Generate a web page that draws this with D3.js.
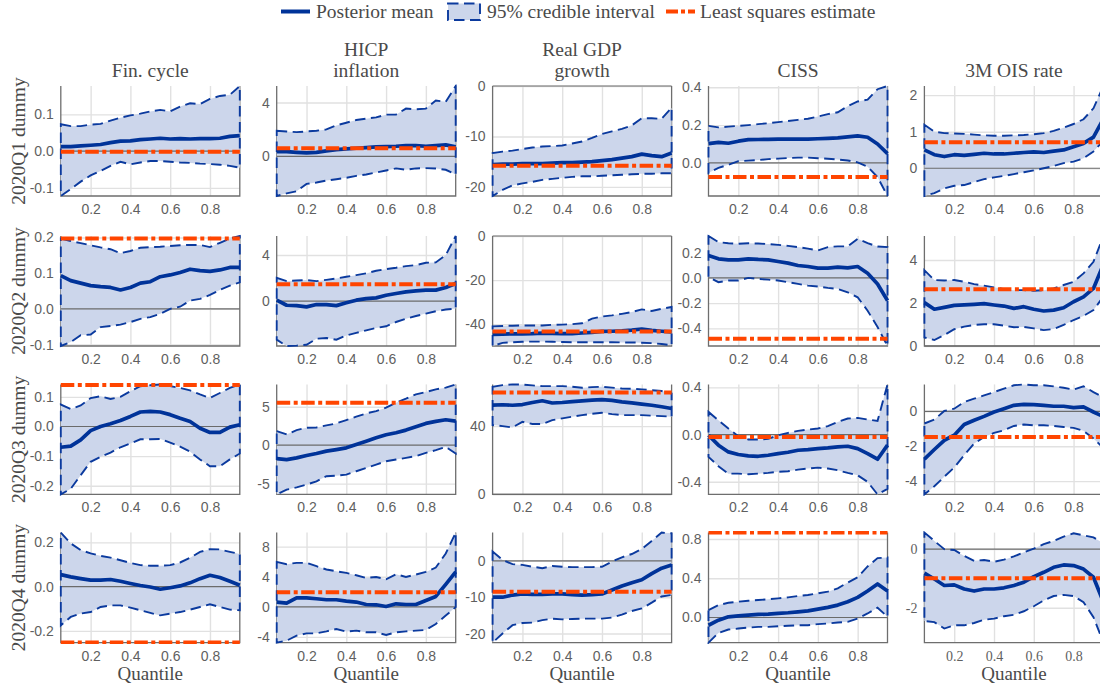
<!DOCTYPE html>
<html>
<head>
<meta charset="utf-8">
<script src="https://cdn.jsdelivr.net/npm/d3@7"></script>
<style>
  body { margin: 0; background: #fff; }
  svg { display: block; }
  .serif { font-family: "Liberation Serif", "DejaVu Serif", "Times New Roman", serif; }
  .sans { font-family: "Liberation Sans", Arial, Helvetica, sans-serif; }
</style>
</head>
<body>
<svg id="chart" width="1100" height="689"></svg>
<script>
// Quantile grid shared by every panel
const quantiles = [0.05, 0.10, 0.15, 0.20, 0.25, 0.30, 0.35, 0.40, 0.45, 0.50,
                   0.55, 0.60, 0.65, 0.70, 0.75, 0.80, 0.85, 0.90, 0.95];
const xTicks = [0.2, 0.4, 0.6, 0.8];

// Column (response variable) titles and row (dummy) labels
const variableTitles = [["Fin. cycle"], ["HICP", "inflation"], ["Real GDP", "growth"], ["CISS"], ["3M OIS rate"]];
const dummyLabels = ["2020Q1 dummy", "2020Q2 dummy", "2020Q3 dummy", "2020Q4 dummy"];
const legendLabels = ["Posterior mean", "95% credible interval", "Least squares estimate"];

// ---- 2020Q1 dummy ----
const finQ1Mean = [0.012, 0.012, 0.014, 0.016, 0.018, 0.023, 0.027, 0.028, 0.031, 0.033, 0.035, 0.033, 0.034, 0.033, 0.034, 0.034, 0.035, 0.040, 0.042];
const finQ1Hi   = [0.073, 0.068, 0.068, 0.072, 0.074, 0.083, 0.091, 0.097, 0.102, 0.108, 0.112, 0.108, 0.121, 0.130, 0.128, 0.142, 0.150, 0.153, 0.177];
const finQ1Lo   = [-0.122, -0.103, -0.083, -0.066, -0.054, -0.040, -0.029, -0.036, -0.031, -0.027, -0.027, -0.029, -0.031, -0.032, -0.034, -0.035, -0.037, -0.040, -0.045];
const hicpQ1Mean = [0.35, 0.35, 0.30, 0.25, 0.30, 0.40, 0.50, 0.55, 0.60, 0.65, 0.70, 0.72, 0.75, 0.80, 0.80, 0.75, 0.80, 0.85, 0.70];
const hicpQ1Hi   = [1.90, 1.85, 1.80, 1.85, 1.90, 2.00, 2.30, 2.50, 2.70, 2.80, 2.90, 3.10, 3.10, 3.55, 3.50, 3.55, 4.15, 4.05, 5.23];
const hicpQ1Lo   = [-2.95, -2.75, -2.60, -2.05, -1.95, -1.80, -1.70, -1.60, -1.45, -1.35, -1.20, -1.05, -0.90, -1.00, -0.90, -0.88, -0.90, -1.00, -1.35];
const gdpQ1Mean = [-15.6, -15.5, -15.5, -15.4, -15.4, -15.4, -15.3, -15.2, -15.2, -15.1, -15.0, -14.8, -14.6, -14.3, -14.0, -13.5, -13.8, -14.0, -13.3];
const gdpQ1Hi   = [-13.3, -13.0, -12.8, -12.5, -12.2, -12.0, -11.9, -11.8, -11.4, -11.0, -10.3, -9.5, -9.0, -8.5, -7.8, -6.4, -6.4, -6.5, -4.3];
const gdpQ1Lo   = [-21.8, -20.6, -19.7, -19.3, -19.0, -18.6, -18.4, -18.2, -18.0, -17.9, -17.9, -17.8, -17.7, -17.6, -17.5, -17.4, -17.4, -17.3, -17.3];
const cissQ1Mean = [0.102, 0.109, 0.104, 0.115, 0.123, 0.124, 0.125, 0.126, 0.126, 0.126, 0.126, 0.128, 0.130, 0.133, 0.138, 0.143, 0.136, 0.100, 0.049];
const cissQ1Hi   = [0.196, 0.188, 0.192, 0.196, 0.200, 0.205, 0.210, 0.216, 0.222, 0.228, 0.234, 0.245, 0.258, 0.268, 0.300, 0.325, 0.335, 0.390, 0.407];
const cissQ1Lo   = [-0.053, -0.026, -0.010, 0.009, 0.012, 0.015, 0.020, 0.023, 0.026, 0.028, 0.028, 0.025, 0.022, 0.018, 0.013, 0.003, -0.020, -0.075, -0.175];
const oisQ1Mean = [0.50, 0.37, 0.32, 0.37, 0.35, 0.38, 0.41, 0.39, 0.39, 0.41, 0.43, 0.45, 0.43, 0.47, 0.50, 0.59, 0.68, 0.85, 1.35];
const oisQ1Hi   = [1.19, 1.00, 0.96, 0.95, 0.94, 0.92, 0.90, 0.89, 0.89, 0.90, 0.91, 0.93, 0.96, 1.02, 1.11, 1.21, 1.34, 1.64, 2.25];
const oisQ1Lo   = [-0.76, -0.68, -0.55, -0.48, -0.46, -0.38, -0.30, -0.25, -0.21, -0.16, -0.11, -0.06, 0.00, 0.06, 0.14, 0.18, 0.27, 0.46, 0.75];
const lsQ1 = [-0.002, 0.60, -15.8, -0.075, 0.71];

// ---- 2020Q2 dummy ----
const finQ2Mean = [0.093, 0.079, 0.072, 0.065, 0.062, 0.060, 0.053, 0.060, 0.072, 0.076, 0.090, 0.095, 0.102, 0.111, 0.107, 0.105, 0.109, 0.116, 0.116];
const finQ2Hi   = [0.197, 0.190, 0.184, 0.178, 0.172, 0.167, 0.156, 0.162, 0.171, 0.173, 0.174, 0.176, 0.178, 0.179, 0.179, 0.173, 0.185, 0.197, 0.204];
const finQ2Lo   = [-0.104, -0.093, -0.074, -0.072, -0.051, -0.048, -0.044, -0.037, -0.028, -0.023, -0.014, 0.000, 0.006, 0.023, 0.028, 0.039, 0.053, 0.065, 0.074];
const hicpQ2Mean = [0.09, -0.35, -0.38, -0.49, -0.29, -0.30, -0.38, -0.14, 0.09, 0.23, 0.29, 0.52, 0.67, 0.81, 0.90, 0.96, 0.96, 1.19, 1.54];
const hicpQ2Hi   = [2.03, 1.74, 1.80, 1.83, 1.74, 1.85, 1.97, 2.12, 2.26, 2.41, 2.64, 2.78, 2.90, 3.04, 3.13, 3.33, 3.36, 4.00, 5.65];
const hicpQ2Lo   = [-3.33, -3.88, -3.85, -3.77, -3.25, -3.19, -3.33, -2.96, -2.75, -2.52, -2.32, -2.17, -1.80, -1.51, -1.28, -1.07, -0.87, -0.72, -0.64];
const gdpQ2Mean = [-44.6, -44.5, -44.4, -44.4, -44.3, -44.1, -44.2, -44.3, -44.3, -44.0, -43.7, -43.3, -43.2, -43.0, -42.7, -42.2, -42.8, -43.2, -43.5];
const gdpQ2Hi   = [-41.0, -40.8, -40.7, -40.6, -40.6, -40.6, -40.3, -40.2, -40.0, -39.6, -37.5, -36.5, -36.0, -35.3, -34.5, -33.3, -34.0, -33.0, -32.2];
const gdpQ2Lo   = [-49.9, -48.5, -48.2, -48.0, -47.9, -47.9, -48.0, -48.1, -48.2, -48.2, -48.2, -48.2, -48.2, -48.3, -48.3, -48.4, -48.6, -49.0, -49.6];
const cissQ2Mean = [0.177, 0.151, 0.143, 0.143, 0.151, 0.146, 0.143, 0.130, 0.117, 0.098, 0.090, 0.077, 0.077, 0.085, 0.079, 0.090, 0.037, -0.048, -0.180];
const cissQ2Hi   = [0.332, 0.283, 0.275, 0.270, 0.275, 0.272, 0.268, 0.262, 0.254, 0.244, 0.232, 0.217, 0.244, 0.250, 0.249, 0.310, 0.275, 0.249, 0.244];
const cissQ2Lo   = [0.005, -0.034, -0.021, -0.021, 0.000, -0.008, -0.014, -0.021, -0.034, -0.048, -0.061, -0.069, -0.079, -0.087, -0.114, -0.154, -0.260, -0.390, -0.540];
const oisQ2Mean = [2.02, 1.71, 1.80, 1.89, 1.91, 1.94, 1.97, 1.91, 1.86, 1.75, 1.83, 1.71, 1.63, 1.67, 1.78, 2.06, 2.29, 2.68, 3.80];
const oisQ2Hi   = [3.53, 3.07, 3.05, 3.07, 2.99, 2.88, 2.81, 2.73, 2.65, 2.60, 2.60, 2.57, 2.60, 2.68, 2.84, 2.99, 3.38, 3.92, 5.12];
const oisQ2Lo   = [0.40, 0.28, 0.51, 0.78, 0.90, 0.98, 1.01, 1.01, 0.95, 0.87, 0.89, 0.82, 0.74, 0.79, 0.98, 1.21, 1.40, 1.67, 2.30];
const lsQ2 = [0.197, 1.48, -43.3, -0.482, 2.64];

// ---- 2020Q3 dummy ----
const finQ3Mean = [-0.070, -0.066, -0.045, -0.014, 0.000, 0.009, 0.020, 0.034, 0.049, 0.051, 0.049, 0.040, 0.028, 0.017, -0.006, -0.020, -0.020, -0.002, 0.006];
const finQ3Hi   = [0.074, 0.059, 0.071, 0.096, 0.102, 0.093, 0.100, 0.119, 0.136, 0.139, 0.142, 0.136, 0.130, 0.122, 0.108, 0.096, 0.113, 0.130, 0.142];
const finQ3Lo   = [-0.229, -0.210, -0.164, -0.119, -0.102, -0.088, -0.070, -0.057, -0.043, -0.043, -0.042, -0.054, -0.068, -0.085, -0.111, -0.134, -0.134, -0.111, -0.091];
const hicpQ3Mean = [-1.74, -1.87, -1.65, -1.35, -1.09, -0.78, -0.57, -0.35, 0.09, 0.52, 0.96, 1.35, 1.61, 1.96, 2.39, 2.83, 3.09, 3.30, 3.13];
const hicpQ3Hi   = [1.83, 1.39, 1.96, 2.26, 2.30, 2.57, 2.83, 3.26, 3.70, 4.13, 4.43, 4.87, 5.52, 6.04, 6.61, 6.91, 7.26, 7.48, 7.90];
const hicpQ3Lo   = [-6.40, -5.78, -5.48, -5.13, -4.70, -4.04, -3.96, -3.83, -3.39, -2.96, -2.52, -2.09, -1.87, -1.65, -1.43, -1.00, -0.65, -0.22, -1.09];
const gdpQ3Mean = [52.3, 52.5, 52.2, 52.6, 53.8, 54.8, 53.5, 53.8, 54.3, 54.8, 55.2, 55.5, 55.0, 54.2, 53.6, 52.9, 52.2, 51.3, 50.3];
const gdpQ3Hi   = [63.0, 64.0, 64.4, 64.3, 63.8, 63.4, 63.4, 63.4, 63.0, 62.4, 62.8, 63.0, 62.5, 62.0, 61.8, 61.5, 61.0, 60.5, 59.1];
const gdpQ3Lo   = [40.6, 40.0, 39.2, 42.5, 41.2, 41.2, 43.5, 44.5, 45.5, 46.4, 47.2, 47.8, 47.0, 46.4, 46.4, 46.4, 46.1, 45.8, 45.5];
const cissQ3Mean = [-0.006, -0.090, -0.147, -0.169, -0.180, -0.184, -0.175, -0.161, -0.150, -0.133, -0.127, -0.119, -0.113, -0.105, -0.099, -0.119, -0.161, -0.209, -0.090];
const cissQ3Hi   = [0.192, 0.121, 0.051, -0.014, -0.042, -0.042, -0.037, -0.006, 0.014, 0.031, 0.042, 0.051, 0.071, 0.107, 0.136, 0.141, 0.127, 0.116, 0.425];
const cissQ3Lo   = [-0.189, -0.268, -0.331, -0.331, -0.336, -0.331, -0.325, -0.316, -0.311, -0.297, -0.288, -0.280, -0.288, -0.302, -0.325, -0.345, -0.401, -0.507, -0.460];
const oisQ3Mean = [-2.74, -2.19, -1.66, -1.37, -0.76, -0.51, -0.29, -0.04, 0.15, 0.34, 0.40, 0.38, 0.34, 0.29, 0.29, 0.21, 0.25, -0.04, -0.30];
const oisQ3Hi   = [-0.70, -0.48, 0.02, 0.15, 0.53, 0.72, 0.91, 1.10, 1.30, 1.49, 1.54, 1.49, 1.49, 1.43, 1.35, 1.24, 1.43, 1.10, 0.80];
const oisQ3Lo   = [-4.76, -4.29, -3.75, -3.22, -2.51, -1.85, -1.47, -1.24, -1.09, -0.84, -0.76, -0.80, -0.80, -0.84, -0.90, -0.95, -1.12, -1.56, -2.10];
const lsQ3 = [0.140, 5.52, 59.7, -0.020, -1.47];

// ---- 2020Q4 dummy ----
const finQ4Mean = [0.054, 0.044, 0.036, 0.029, 0.029, 0.032, 0.024, 0.014, 0.005, -0.002, -0.012, -0.005, 0.003, 0.017, 0.036, 0.051, 0.041, 0.024, 0.006];
const finQ4Hi   = [0.244, 0.195, 0.165, 0.150, 0.139, 0.131, 0.119, 0.107, 0.097, 0.094, 0.094, 0.097, 0.109, 0.130, 0.157, 0.169, 0.168, 0.157, 0.147];
const finQ4Lo   = [-0.175, -0.137, -0.122, -0.115, -0.092, -0.085, -0.085, -0.095, -0.107, -0.119, -0.130, -0.122, -0.115, -0.104, -0.092, -0.080, -0.092, -0.104, -0.107];
const hicpQ4Mean = [0.63, 0.49, 1.20, 1.20, 1.07, 0.94, 0.94, 0.76, 0.63, 0.31, 0.27, 0.04, 0.40, 0.31, 0.31, 0.85, 1.38, 2.99, 4.64];
const hicpQ4Hi   = [5.98, 5.67, 5.85, 5.85, 5.40, 4.96, 4.73, 4.51, 4.20, 3.84, 3.97, 3.66, 4.33, 3.97, 4.29, 4.64, 5.22, 7.10, 9.87];
const hicpQ4Lo   = [-4.76, -4.50, -3.84, -3.53, -3.53, -3.26, -2.95, -3.30, -3.17, -3.39, -3.39, -3.75, -3.39, -3.26, -3.17, -3.08, -2.28, -1.16, -0.04];
const gdpQ4Mean = [-10.0, -10.0, -9.4, -9.1, -9.2, -9.2, -9.1, -9.1, -9.3, -9.4, -9.3, -9.1, -8.0, -6.9, -6.0, -5.2, -3.5, -2.0, -1.1];
const gdpQ4Hi   = [2.6, 0.28, -0.9, -1.1, -1.6, -2.0, -1.4, -1.6, -1.7, -1.7, -1.7, -1.6, -0.2, 1.0, 1.9, 3.3, 5.5, 7.8, 7.6];
const gdpQ4Lo   = [-22.5, -20.0, -17.7, -17.1, -17.0, -16.3, -15.9, -16.1, -16.0, -15.9, -15.9, -15.9, -15.6, -14.8, -13.8, -13.1, -11.5, -9.8, -9.4];
const cissQ4Mean = [-0.079, -0.027, 0.007, 0.017, 0.024, 0.031, 0.034, 0.041, 0.048, 0.058, 0.068, 0.085, 0.103, 0.126, 0.161, 0.205, 0.270, 0.342, 0.270];
const cissQ4Hi   = [0.075, 0.126, 0.150, 0.161, 0.171, 0.178, 0.185, 0.195, 0.205, 0.219, 0.229, 0.246, 0.263, 0.297, 0.356, 0.410, 0.520, 0.605, 0.612];
const cissQ4Lo   = [-0.256, -0.157, -0.123, -0.113, -0.103, -0.096, -0.096, -0.089, -0.085, -0.079, -0.079, -0.068, -0.062, -0.051, -0.044, -0.010, 0.041, 0.099, 0.007];
const oisQ4Mean = [-0.82, -1.02, -1.24, -1.22, -1.36, -1.43, -1.36, -1.36, -1.32, -1.24, -1.13, -0.94, -0.79, -0.62, -0.54, -0.56, -0.68, -0.96, -1.80];
const oisQ4Hi   = [0.565, 0.28, 0.00, -0.03, -0.23, -0.40, -0.37, -0.43, -0.36, -0.25, -0.11, 0.02, 0.17, 0.28, 0.43, 0.54, 0.47, 0.40, 0.20];
const oisQ4Lo   = [-2.45, -2.49, -2.71, -2.60, -2.60, -2.52, -2.41, -2.37, -2.29, -2.24, -2.12, -1.95, -1.75, -1.60, -1.56, -1.60, -1.81, -2.32, -3.19];
const lsQ4 = [-0.253, 1.92, -8.5, 0.865, -0.99];

// Y tick labels per panel (rows: dummies, columns: variables)
const yTicksQ1 = [[-0.1, 0, 0.1], [0, 4], [-20, -10, 0], [0, 0.2, 0.4], [0, 1, 2]];
const yTicksQ2 = [[-0.1, 0, 0.1, 0.2], [0, 4], [-40, -20, 0], [-0.4, -0.2, 0, 0.2], [0, 2, 4]];
const yTicksQ3 = [[-0.2, -0.1, 0, 0.1], [-5, 0, 5], [0, 40], [-0.4, 0, 0.4], [-4, -2, 0]];
const yTicksQ4 = [[-0.2, 0, 0.2], [-4, 0, 4, 8], [-20, -10, 0], [0, 0.4, 0.8], [-2, 0]];

// Assemble panel records from the arrays above
const rows = [
  [[finQ1Mean, finQ1Lo, finQ1Hi], [hicpQ1Mean, hicpQ1Lo, hicpQ1Hi], [gdpQ1Mean, gdpQ1Lo, gdpQ1Hi], [cissQ1Mean, cissQ1Lo, cissQ1Hi], [oisQ1Mean, oisQ1Lo, oisQ1Hi]],
  [[finQ2Mean, finQ2Lo, finQ2Hi], [hicpQ2Mean, hicpQ2Lo, hicpQ2Hi], [gdpQ2Mean, gdpQ2Lo, gdpQ2Hi], [cissQ2Mean, cissQ2Lo, cissQ2Hi], [oisQ2Mean, oisQ2Lo, oisQ2Hi]],
  [[finQ3Mean, finQ3Lo, finQ3Hi], [hicpQ3Mean, hicpQ3Lo, hicpQ3Hi], [gdpQ3Mean, gdpQ3Lo, gdpQ3Hi], [cissQ3Mean, cissQ3Lo, cissQ3Hi], [oisQ3Mean, oisQ3Lo, oisQ3Hi]],
  [[finQ4Mean, finQ4Lo, finQ4Hi], [hicpQ4Mean, hicpQ4Lo, hicpQ4Hi], [gdpQ4Mean, gdpQ4Lo, gdpQ4Hi], [cissQ4Mean, cissQ4Lo, cissQ4Hi], [oisQ4Mean, oisQ4Lo, oisQ4Hi]]
];
const lsRows = [lsQ1, lsQ2, lsQ3, lsQ4];
const yTickRows = [yTicksQ1, yTicksQ2, yTicksQ3, yTicksQ4];

// ---- Styling and layout ----
const C = {
  mean: "#003399",
  band: "rgb(204,214,235)",
  bandEdge: "#0b3a9e",
  ls: "#ff4500",
  grid: "#e1e1e1",
  zero: "#6b6b6b",
  axis: "#6e6e6e",
  tick: "#5f5f5f",
  text: "#4a4a4a"
};
const plotW = 179, plotH = 110;
const colLeft = i => 60.8 + i * 215.9;
const rowTop = [86, 236, 384.4, 532.6];

const svg = d3.select("#chart");
const defs = svg.append("defs");

const fmtFor = ticks => {
  const dec = ticks.some(t => Math.abs(t - Math.round(t)) > 1e-9);
  const f = d3.format(dec ? ".1f" : "d");
  return t => f(t).replace("\u2212", "-");
};

function drawPanel(r, c) {
  const [mean, lo, hi] = rows[r][c];
  const ls = lsRows[r][c];
  const ticks = yTickRows[r][c];
  const latexTicks = (r === 3 && c === 4);
  const tickClass = latexTicks ? "serif" : "sans";

  const g = svg.append("g").attr("transform", `translate(${colLeft(c)},${rowTop[r]})`);
  const x = d3.scaleLinear().domain([0.05, 0.95]).range([0, plotW]);
  const y = d3.scaleLinear().domain(d3.extent([...lo, ...hi, ls, 0])).range([plotH, 0]);

  const clipId = `clip-${r}-${c}`;
  defs.append("clipPath").attr("id", clipId)
    .append("rect").attr("x", -1.5).attr("y", -1.5).attr("width", plotW + 3).attr("height", plotH + 3);

  // grid
  g.append("g")
    .call(d3.axisBottom(x).tickValues(xTicks).tickSize(plotH).tickFormat(""))
    .call(s => s.select(".domain").remove())
    .call(s => s.selectAll("line").attr("stroke", C.grid).attr("stroke-width", 1.4));
  g.append("g")
    .call(d3.axisLeft(y).tickValues(ticks).tickSize(-plotW).tickFormat(""))
    .call(s => s.select(".domain").remove())
    .call(s => s.selectAll("line").attr("stroke", C.grid).attr("stroke-width", 1.4));

  // box (left, bottom, right)
  g.append("path")
    .attr("d", `M0,0V${plotH}H${plotW}V0`)
    .attr("fill", "none").attr("stroke", C.axis).attr("stroke-width", 1.3);

  // tick labels
  g.append("g")
    .call(d3.axisLeft(y).tickValues(ticks).tickSize(0).tickPadding(7).tickFormat(fmtFor(ticks)))
    .call(s => s.attr("font-family", null).attr("font-size", null))
    .call(s => s.select(".domain").remove())
    .call(s => s.selectAll("text").attr("class", tickClass).attr("fill", C.tick).style("font-size", "14px"));
  g.append("g").attr("transform", `translate(0,${plotH})`)
    .call(d3.axisBottom(x).tickValues(xTicks).tickSize(0).tickPadding(8).tickFormat(d3.format(".1f")))
    .call(s => s.attr("font-family", null).attr("font-size", null))
    .call(s => s.select(".domain").remove())
    .call(s => s.selectAll("text").attr("class", tickClass).attr("fill", C.tick).style("font-size", "14px"));

  const pts = quantiles.map((q, i) => ({ q, m: mean[i], lo: lo[i], hi: hi[i] }));
  const data = g.append("g").attr("clip-path", `url(#${clipId})`);

  // credible band
  data.append("path").datum(pts)
    .attr("d", d3.area().x(d => x(d.q)).y0(d => y(d.lo)).y1(d => y(d.hi)))
    .attr("fill", C.band);

  // zero line
  data.append("line")
    .attr("x1", 0).attr("x2", plotW).attr("y1", y(0)).attr("y2", y(0))
    .attr("stroke", C.zero).attr("stroke-width", 1.2);

  // dashed outline of band (upper edge, right end, lower edge back, left end)
  const ring = [...pts.map(d => [x(d.q), y(d.hi)]), ...pts.slice().reverse().map(d => [x(d.q), y(d.lo)])];
  data.append("path")
    .attr("d", d3.line()(ring) + "Z")
    .attr("fill", "none").attr("stroke", C.bandEdge).attr("stroke-width", 1.9)
    .attr("stroke-dasharray", "10.5,5.5");

  // posterior mean
  data.append("path").datum(pts)
    .attr("d", d3.line().x(d => x(d.q)).y(d => y(d.m)))
    .attr("fill", "none").attr("stroke", C.mean).attr("stroke-width", 3.7)
    .attr("stroke-linejoin", "round");

  // least squares estimate
  data.append("line")
    .attr("x1", x(0.05)).attr("x2", x(0.95)).attr("y1", y(ls)).attr("y2", y(ls))
    .attr("stroke", C.ls).attr("stroke-width", 4)
    .attr("stroke-dasharray", "13.5,3.5,4,3.5");

  // column titles on first row
  if (r === 0) {
    const lines = variableTitles[c];
    const t = svg.append("text").attr("class", "serif")
      .attr("x", colLeft(c) + plotW / 2).attr("text-anchor", "middle")
      .style("font-size", "19.5px").attr("fill", C.text);
    lines.forEach((ln, k) => {
      t.append("tspan").attr("x", colLeft(c) + plotW / 2)
        .attr("y", 77 - (lines.length - 1 - k) * 21.5).text(ln);
    });
  }
  // x axis label on last row
  if (r === 3) {
    svg.append("text").attr("class", "serif")
      .attr("x", colLeft(c) + plotW / 2).attr("y", 680)
      .attr("text-anchor", "middle").style("font-size", "19px")
      .attr("fill", C.text).text("Quantile");
  }
}

for (let r = 0; r < 4; r++) for (let c = 0; c < 5; c++) drawPanel(r, c);

// row labels
dummyLabels.forEach((lab, r) => {
  const cy = rowTop[r] + plotH / 2;
  svg.append("text").attr("class", "serif")
    .attr("transform", `translate(25,${cy}) rotate(-90)`)
    .attr("text-anchor", "middle").style("font-size", "19.5px")
    .attr("fill", C.text).text(lab);
});

// legend
const lg = svg.append("g");
lg.append("line").attr("x1", 281).attr("x2", 310).attr("y1", 11.5).attr("y2", 11.5)
  .attr("stroke", C.mean).attr("stroke-width", 4);
lg.append("text").attr("x", 316).attr("y", 17.5).text(legendLabels[0]);
lg.append("rect").attr("x", 448).attr("y", 3.5).attr("width", 32).attr("height", 16.5)
  .attr("fill", C.band).attr("stroke", C.bandEdge).attr("stroke-width", 1.9)
  .attr("stroke-dasharray", "10.5,5.5");
lg.append("text").attr("x", 487).attr("y", 17.5).text(legendLabels[1]);
lg.append("line").attr("x1", 666).attr("x2", 695).attr("y1", 11.5).attr("y2", 11.5)
  .attr("stroke", C.ls).attr("stroke-width", 4).attr("stroke-dasharray", "12,3,4,3");
lg.append("text").attr("x", 700).attr("y", 17.5).text(legendLabels[2]);
lg.selectAll("text").attr("class", "serif").style("font-size", "19.5px").attr("fill", C.text);
</script>
</body>
</html>
